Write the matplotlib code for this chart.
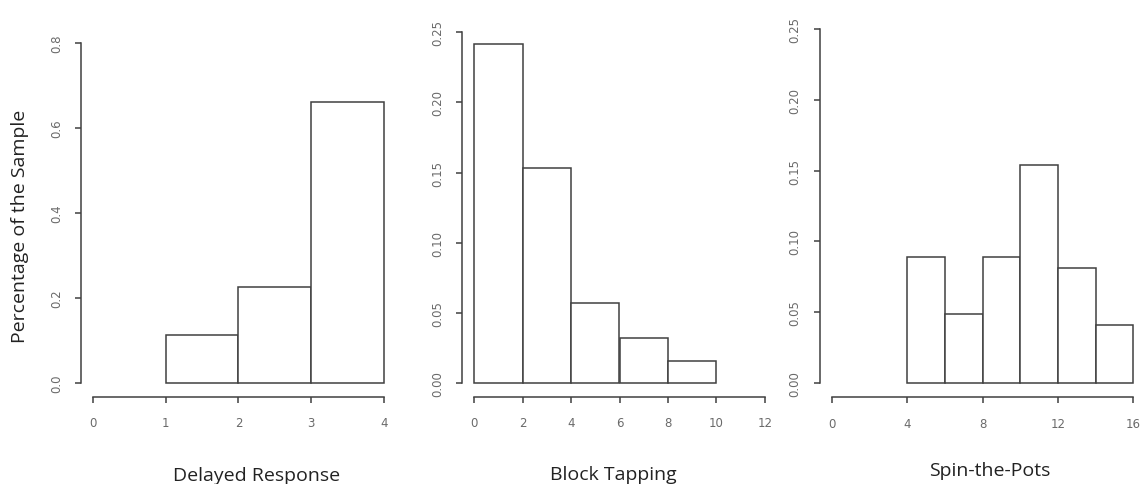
"""
Histograms of three task scores (R base-graphics look).
"""

import matplotlib.pyplot as plt
import numpy as np

# Data (density per bin, bin width = 2 for the right panels)
delayed_edges = [1, 2, 3]
delayed_heights = [0.113, 0.226, 0.661]

block_edges = [0, 2, 4, 6, 8]
block_heights = [0.242, 0.153, 0.057, 0.032, 0.016]

spin_edges = [4, 6, 8, 10, 12, 14]
spin_heights = [0.089, 0.049, 0.089, 0.154, 0.081, 0.041]

x_labels = ["Delayed Response", "Block Tapping", "Spin-the-Pots"]
y_label = "Percentage of the Sample"

line_col = "#404040"
tick_col = "#6a6a6a"
W, H = 1140, 485

fig = plt.figure(figsize=(W / 100, H / 100), dpi=100)


def px_axes(left, right, top, bottom):
    return fig.add_axes([left / W, 1 - bottom / H, (right - left) / W, (bottom - top) / H])


def r_hist(ax, edges, heights, width, xticks, yticks, ylabels):
    ax.bar(edges, heights, width=width, align="edge", color="white",
           edgecolor=line_col, linewidth=1.1)
    x0, x1 = xticks[0], xticks[-1]
    y0, y1 = yticks[0], yticks[-1]
    dx = (x1 - x0) * 0.04
    dy = (y1 - y0) * 0.04
    ax.set_xlim(x0 - dx, x1 + dx)
    ax.set_ylim(y0 - dy, y1 + dy)
    ax.set_xticks(xticks)
    ax.set_yticks(yticks)
    ax.set_yticklabels(ylabels, rotation=90, va="center")
    for s in ["top", "right"]:
        ax.spines[s].set_visible(False)
    ax.spines["left"].set_bounds(y0, y1)
    ax.spines["bottom"].set_bounds(x0, x1)
    for s in ["left", "bottom"]:
        ax.spines[s].set_color(line_col)
        ax.spines[s].set_linewidth(1.1)
    ax.tick_params(direction="out", length=4, width=1.1, color=line_col,
                   labelcolor=tick_col, labelsize=8.5)
    ax.tick_params(axis="x", pad=10)
    ax.tick_params(axis="y", pad=9)
    ax.patch.set_alpha(0)


ax1 = px_axes(81.3, 395.7, 30.4, 397.6)
r_hist(ax1, delayed_edges, delayed_heights, 1, [0, 1, 2, 3, 4],
       [0.0, 0.2, 0.4, 0.6, 0.8], ["0.0", "0.2", "0.4", "0.6", "0.8"])

ax2 = px_axes(462.4, 776.6, 19.3, 398.0)
r_hist(ax2, block_edges, block_heights, 2, [0, 2, 4, 6, 8, 10, 12],
       [0.00, 0.05, 0.10, 0.15, 0.20, 0.25],
       ["0.00", "0.05", "0.10", "0.15", "0.20", "0.25"])

ax3 = px_axes(819.6, 1145.4, 15.8, 398.2)
r_hist(ax3, spin_edges, spin_heights, 2, [0, 4, 8, 12, 16],
       [0.00, 0.05, 0.10, 0.15, 0.20, 0.25],
       ["0.00", "0.05", "0.10", "0.15", "0.20", "0.25"])

font = "Open Sans"
txt = dict(fontsize=14, family=font, color="#222222")
fig.text(20 / W, 1 - 226 / H, y_label, rotation=90, ha="center", va="center", **txt)
fig.text(257 / W, 1 - 481 / H, x_labels[0], ha="center", va="baseline", **txt)
fig.text(613 / W, 1 - 480 / H, x_labels[1], ha="center", va="baseline", **txt)
fig.text(990 / W, 1 - 476 / H, x_labels[2], ha="center", va="baseline", **txt)

fig.savefig("out.png", dpi=100, facecolor="white")
